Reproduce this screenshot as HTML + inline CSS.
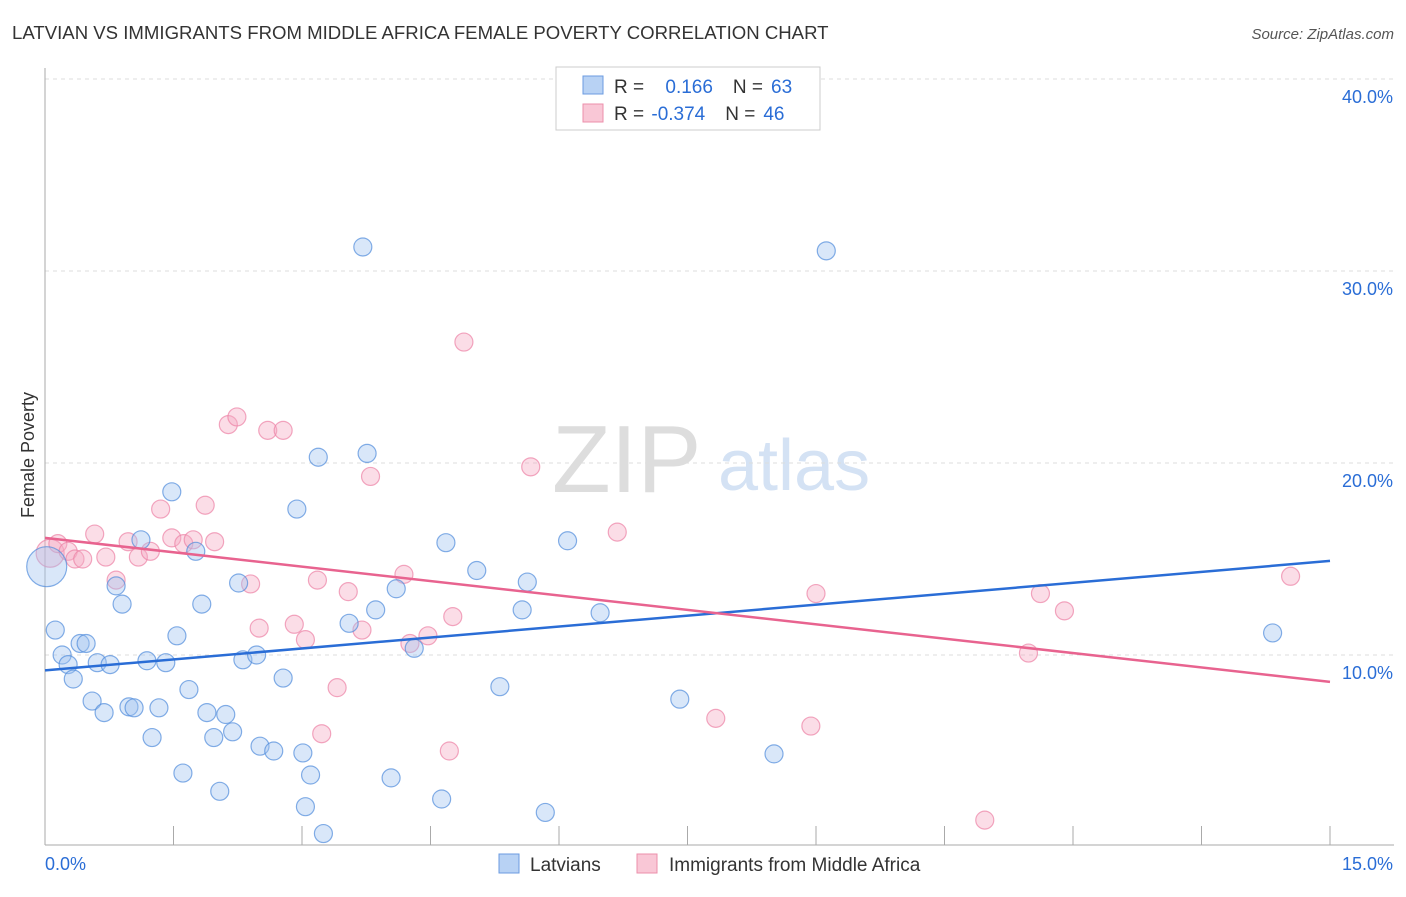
<!DOCTYPE html>
<html><head><meta charset="utf-8"><style>
body{margin:0;background:#fff;font-family:"Liberation Sans",sans-serif;}
svg text{font-family:"Liberation Sans",sans-serif;}
</style></head><body>
<svg id="chart" width="1406" height="892">
<text x="12" y="39" font-size="18.6" fill="#333">LATVIAN VS IMMIGRANTS FROM MIDDLE AFRICA FEMALE POVERTY CORRELATION CHART</text>
<text x="1394" y="39" font-size="15" fill="#555" text-anchor="end" font-style="italic">Source: ZipAtlas.com</text>
<text x="552" y="492" font-size="96" fill="#ddd" font-family="Liberation Serif">ZIP</text>
<text x="718" y="490" font-size="72" fill="#d4e2f4">atlas</text>
<text transform="translate(34,455) rotate(-90)" font-size="18" fill="#333" text-anchor="middle">Female Poverty</text>
<g id="grid"></g><g id="pts"></g><g id="lines"></g>
<g>
<rect x="556" y="67" width="264" height="63" fill="#fff" stroke="#ccc"/>
<rect x="583" y="76" width="20" height="18" fill="#b8d2f4" stroke="#6b9be0"/>
<rect x="583" y="104" width="20" height="18" fill="#f9c7d6" stroke="#ec8fab"/>
<text x="614" y="93" font-size="19" fill="#333">R = <tspan fill="#2a6dd6" dx="16">0.166</tspan><tspan fill="#333" dx="20">N =</tspan><tspan fill="#2a6dd6" dx="8">63</tspan></text>
<text x="614" y="120" font-size="19" fill="#333">R = <tspan fill="#2a6dd6" dx="2">-0.374</tspan><tspan fill="#333" dx="20">N =</tspan><tspan fill="#2a6dd6" dx="8">46</tspan></text>
</g>
<g>
<rect x="499" y="854" width="20" height="19" fill="#b8d2f4" stroke="#6b9be0"/>
<text x="530" y="871" font-size="19" fill="#333">Latvians</text>
<rect x="637" y="854" width="20" height="19" fill="#f9c7d6" stroke="#ec8fab"/>
<text x="669" y="871" font-size="19" fill="#333">Immigrants from Middle Africa</text>
</g>
</svg>
<script>
const yTicks=[10,20,30,40];
const blueX=[0.02,0.12,0.2,0.27,0.33,0.41,0.48,0.55,0.61,0.69,0.76,0.83,0.9,0.98,1.04,1.12,1.19,1.25,1.33,1.41,1.48,1.54,1.61,1.68,1.76,1.83,1.89,1.97,2.04,2.11,2.19,2.26,2.31,2.47,2.51,2.67,2.78,2.94,3.01,3.04,3.1,3.19,3.25,3.55,3.71,3.76,3.86,4.04,4.1,4.31,4.63,4.68,5.04,5.31,5.57,5.63,5.84,6.1,6.48,7.41,8.51,9.12,14.33];
const blueY=[14.6,11.3,10.0,9.5,8.75,10.6,10.6,7.6,9.6,7.0,9.5,13.6,12.65,7.3,7.25,16.0,9.7,5.7,7.25,9.6,18.5,11.0,3.85,8.2,15.4,12.65,7.0,5.7,2.9,6.9,6.0,13.75,9.75,10.0,5.25,5.0,8.8,17.6,4.9,2.1,3.75,20.3,0.7,11.65,31.25,20.5,12.35,3.6,13.45,10.35,2.5,15.85,14.4,8.35,12.35,13.8,1.8,15.95,12.2,7.7,4.85,31.05,11.15];
const pinkX=[0.06,0.15,0.27,0.35,0.44,0.58,0.71,0.83,0.97,1.09,1.23,1.35,1.48,1.62,1.73,1.87,1.98,2.14,2.24,2.4,2.5,2.6,2.78,2.91,3.04,3.18,3.23,3.41,3.54,3.7,3.8,4.19,4.26,4.47,4.72,4.76,4.89,5.67,6.68,7.83,8.94,9.0,10.97,11.48,11.62,11.9,14.54];
const pinkY=[15.3,15.8,15.4,15.0,15.0,16.3,15.1,13.9,15.9,15.1,15.4,17.6,16.1,15.8,16.0,17.8,15.9,22.0,22.4,13.7,11.4,21.7,21.7,11.6,10.8,13.9,5.9,8.3,13.3,11.3,19.3,14.2,10.6,11.0,5.0,12.0,26.3,19.8,16.4,6.7,6.3,13.2,1.4,10.1,13.2,12.3,14.1];
const blueTrend=[9.2,14.9];
const pinkTrend=[16.1,8.6];
const X=v=>45+v/15*1285, Y=v=>847-v*19.2;
const NS="http://www.w3.org/2000/svg";
function mk(tag,attrs,parent){const e=document.createElementNS(NS,tag);for(const k in attrs)e.setAttribute(k,attrs[k]);parent.appendChild(e);return e;}
const grid=document.getElementById('grid');
yTicks.forEach(t=>{
 const l=mk('line',{x1:45,x2:1394,y1:Y(t),y2:Y(t),stroke:'#ddd','stroke-dasharray':'4,4'},grid);
 
 
 const tx=mk('text',{x:1393,y:Y(t)+24,'font-size':18,fill:'#2a6dd6','text-anchor':'end'},grid);
 tx.textContent=t.toFixed(1)+'%';
 
 
});
const ax=mk('line',{x1:45,x2:45,y1:68,y2:845,stroke:'#aaa'},grid);


const bx=mk('line',{x1:45,x2:1394,y1:845,y2:845,stroke:'#aaa'},grid);


for(let i=0;i<=10;i++){const x=45+i*128.5;const t=mk('line',{x1:x,x2:x,y1:826,y2:845,stroke:'#aaa'},grid);
 
 }
const xl=mk('text',{x:45,y:870,'font-size':18,fill:'#2a6dd6'},grid);xl.textContent='0.0%';


const xr=mk('text',{x:1393,y:870,'font-size':18,fill:'#2a6dd6','text-anchor':'end'},grid);xr.textContent='15.0%';


const pts=document.getElementById('pts');
pinkX.forEach((v,i)=>{const c=mk('circle',{cx:X(v),cy:Y(pinkY[i]),r:i==0?14:9,fill:'rgba(246,170,195,0.4)',stroke:'rgba(236,130,165,0.7)','stroke-width':1.2},pts);
 
 });
blueX.forEach((v,i)=>{const c=mk('circle',{cx:X(v),cy:Y(blueY[i]),r:i==0?20:9,fill:'rgba(160,195,240,0.4)',stroke:'rgba(80,140,220,0.7)','stroke-width':1.2},pts);
 
 });
const lines=document.getElementById('lines');
const bl=mk('line',{x1:X(0),y1:Y(blueTrend[0]),x2:X(15),y2:Y(blueTrend[1]),stroke:'#2a6dd6','stroke-width':2.5},lines);


const pl=mk('line',{x1:X(0),y1:Y(pinkTrend[0]),x2:X(15),y2:Y(pinkTrend[1]),stroke:'#e8638f','stroke-width':2.5},lines);


</script>
</body></html>
